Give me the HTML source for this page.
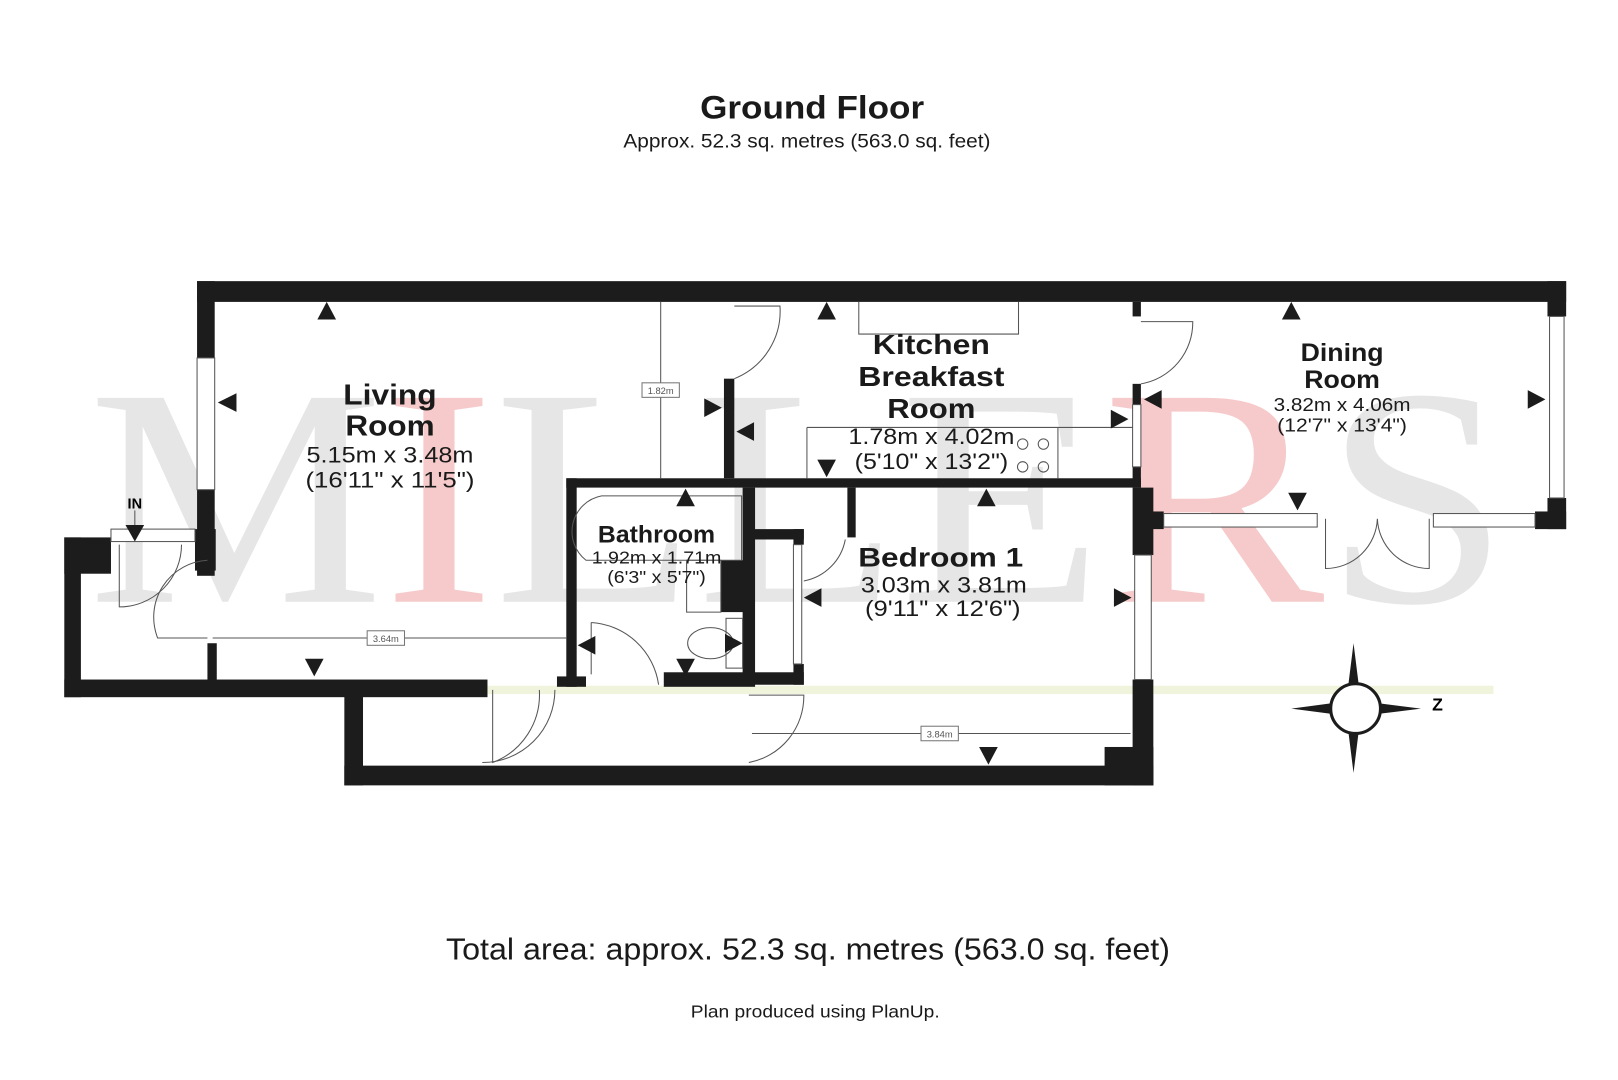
<!DOCTYPE html>
<html><head><style>
html,body{margin:0;padding:0;background:#fff;}
svg{display:block;}
text{font-family:"Liberation Sans",sans-serif;}
</style></head><body>
<svg width="1618" height="1080" viewBox="0 0 1560 1041" preserveAspectRatio="none" xmlns="http://www.w3.org/2000/svg">
<rect width="1560" height="1041" fill="#fff"/>
<text x="85" y="580" font-size="300" textLength="1370" lengthAdjust="spacingAndGlyphs" fill="#e6e6e6" style="font-family:'Liberation Serif',serif">M<tspan fill="#f6caca">I</tspan>LLE<tspan fill="#f6caca">R</tspan>S</text>
<rect x="75" y="661" width="1365" height="8" fill="#eef3d8" opacity="0.9"/>
<g fill="#1c1c1c">
<rect x="190" y="271" width="1320" height="20"/>
<rect x="190" y="271" width="17" height="74"/>
<rect x="190" y="472" width="17" height="83"/>
<rect x="1492" y="271" width="18" height="34"/>
<rect x="1492" y="480" width="18" height="30"/>
<rect x="1100" y="493" width="22" height="17"/>
<rect x="1480" y="493" width="30" height="17"/>
<rect x="546" y="461" width="554" height="9"/>
<rect x="698" y="365" width="10" height="96"/>
<rect x="1092" y="291" width="8" height="14"/>
<rect x="1092" y="370" width="8" height="20"/>
<rect x="1092" y="450" width="8" height="20"/>
<rect x="1092" y="470" width="20" height="65"/>
<rect x="1092" y="655" width="20" height="102"/>
<rect x="332" y="738" width="780" height="19"/>
<rect x="1065" y="720" width="47" height="37"/>
<rect x="332" y="665" width="18" height="92"/>
<rect x="62" y="655" width="408" height="17"/>
<rect x="200" y="620" width="9" height="40"/>
<rect x="62" y="518" width="16" height="154"/>
<rect x="62" y="518" width="45" height="35"/>
<rect x="188" y="510" width="20" height="40"/>
<rect x="546" y="461" width="10" height="201"/>
<rect x="537" y="652" width="28" height="10"/>
<rect x="640" y="648" width="88" height="14"/>
<rect x="716" y="470" width="12" height="190"/>
<rect x="695" y="540" width="25" height="50"/>
<rect x="722" y="510" width="53" height="10"/>
<rect x="765" y="510" width="10" height="15"/>
<rect x="817" y="470" width="8" height="48"/>
<rect x="722" y="648" width="53" height="12"/>
<rect x="765" y="640" width="10" height="20"/>
</g>
<g fill="#fff" stroke="#555" stroke-width="1">
<rect x="190" y="345" width="17" height="127"/>
<rect x="1494" y="305" width="14" height="175"/>
<rect x="1122" y="495" width="148" height="13"/>
<rect x="1382" y="495" width="98" height="13"/>
<rect x="1094" y="535" width="16" height="120"/>
<rect x="1092" y="390" width="8" height="60"/>
<rect x="107" y="510" width="81" height="12"/>
<rect x="765" y="525" width="8" height="115"/>
</g>
<g fill="none" stroke="#555" stroke-width="1">
<path d="M708 365 A70 70 0 0 0 752 295 L708 295"/>
<path d="M1100 370 A60 60 0 0 0 1150 310 L1100 310"/>
<path d="M200 540 A55 55 0 0 0 152 615 L200 615"/>
<path d="M115 525 V585 A60 60 0 0 0 175 525"/>
<path d="M475 665 V735 A70 70 0 0 0 520 665"/>
<path d="M465 735 A70 70 0 0 0 535 665"/>
<path d="M722 735 A65 65 0 0 0 775 670 L722 670"/>
<path d="M570 600 A70 70 0 0 1 635 660 M570 600 V650"/>
<path d="M775 560 A50 50 0 0 0 815 520"/>
<path d="M1278 500 V548 A50 50 0 0 0 1328 500 A50 50 0 0 0 1378 548 V500"/>
<path d="M828 291 V322 H982 V291"/>
<path d="M778 412 H1092 M778 412 V461 M1020 412 V461"/>
<path d="M580 478 H715 V540 H565 A35 35 0 0 1 580 478"/>
<path d="M662 540 H695 V590 H662 Z"/>
<ellipse cx="685" cy="620" rx="22" ry="15"/>
<rect x="700" y="596" width="16" height="48"/>
<circle cx="986" cy="428" r="5"/><circle cx="1006" cy="428" r="5"/>
<circle cx="986" cy="450" r="5"/><circle cx="1006" cy="450" r="5"/>
<line x1="637" y1="291" x2="637" y2="461"/>
<line x1="205" y1="615" x2="546" y2="615"/>
<line x1="725" y1="707" x2="1090" y2="707"/>
<line x1="130" y1="492" x2="130" y2="506"/>
</g>
<g fill="#fff" stroke="#777" stroke-width="1">
<rect x="619" y="369" width="36" height="14"/><rect x="354" y="608" width="36" height="14"/><rect x="888" y="700" width="36" height="14"/>
</g>
<g font-size="9" fill="#555" text-anchor="middle">
<text x="637" y="380">1.82m</text><text x="372" y="619">3.64m</text><text x="906" y="711">3.84m</text>
</g>
<g fill="#1c1c1c">
<path d="M306 308 L324 308 L315 291Z"/>
<path d="M788 308 L806 308 L797 291Z"/>
<path d="M1236 308 L1254 308 L1245 291Z"/>
<path d="M210 388 L228 379 L228 397Z"/>
<path d="M696 393 L679 384 L679 402Z"/>
<path d="M710 416 L727 407 L727 425Z"/>
<path d="M1088 404 L1071 395 L1071 413Z"/>
<path d="M1103 385 L1120 376 L1120 394Z"/>
<path d="M1490 385 L1473 376 L1473 394Z"/>
<path d="M788 443 L806 443 L797 460Z"/>
<path d="M1242 475 L1260 475 L1251 492Z"/>
<path d="M652 488 L670 488 L661 471Z"/>
<path d="M942 488 L960 488 L951 471Z"/>
<path d="M775 576 L792 567 L792 585Z"/>
<path d="M1091 576 L1074 567 L1074 585Z"/>
<path d="M557 622 L574 613 L574 631Z"/>
<path d="M716 620 L699 611 L699 629Z"/>
<path d="M652 635 L670 635 L661 652Z"/>
<path d="M294 635 L312 635 L303 652Z"/>
<path d="M944 720 L962 720 L953 737Z"/>
<path d="M121 506 L139 506 L130 522Z"/>
</g>
<text x="130" y="490" font-size="14" font-weight="bold" text-anchor="middle">IN</text>
<g fill="#1c1c1c">
<path d="M1305 620 L1310 660 L1300 660Z"/>
<path d="M1305 745 L1310 705 L1300 705Z"/>
<path d="M1245 683 L1283 678 L1283 688Z"/>
<path d="M1370 683 L1330 678 L1330 688Z"/>
</g>
<circle cx="1307" cy="683" r="24" fill="#fff" stroke="#1c1c1c" stroke-width="3"/>
<text x="1386" y="685" font-size="17" font-weight="bold" text-anchor="middle">Z</text>
<g text-anchor="middle" fill="#1a1a1a" lengthAdjust="spacingAndGlyphs">
<text x="783" y="114" font-size="31" font-weight="bold" textLength="216" lengthAdjust="spacingAndGlyphs">Ground Floor</text>
<text x="778" y="142" font-size="19" textLength="354" lengthAdjust="spacingAndGlyphs">Approx. 52.3 sq. metres (563.0 sq. feet)</text>
<text x="376" y="390" font-size="28" font-weight="bold" textLength="90" lengthAdjust="spacingAndGlyphs">Living</text>
<text x="376" y="420" font-size="28" font-weight="bold" textLength="86" lengthAdjust="spacingAndGlyphs">Room</text>
<text x="376" y="446" font-size="21" textLength="161" lengthAdjust="spacingAndGlyphs">5.15m x 3.48m</text>
<text x="376" y="470" font-size="21" textLength="163" lengthAdjust="spacingAndGlyphs">(16'11" x 11'5")</text>
<text x="898" y="341" font-size="27" font-weight="bold" textLength="113" lengthAdjust="spacingAndGlyphs">Kitchen</text>
<text x="898" y="372" font-size="27" font-weight="bold" textLength="141" lengthAdjust="spacingAndGlyphs">Breakfast</text>
<text x="898" y="403" font-size="27" font-weight="bold" textLength="85" lengthAdjust="spacingAndGlyphs">Room</text>
<text x="898" y="428" font-size="21" textLength="160" lengthAdjust="spacingAndGlyphs">1.78m x 4.02m</text>
<text x="898" y="452" font-size="21" textLength="148" lengthAdjust="spacingAndGlyphs">(5'10" x 13'2")</text>
<text x="1294" y="348" font-size="24" font-weight="bold" textLength="80" lengthAdjust="spacingAndGlyphs">Dining</text>
<text x="1294" y="374" font-size="24" font-weight="bold" textLength="73" lengthAdjust="spacingAndGlyphs">Room</text>
<text x="1294" y="396" font-size="18" textLength="132" lengthAdjust="spacingAndGlyphs">3.82m x 4.06m</text>
<text x="1294" y="416" font-size="18" textLength="125" lengthAdjust="spacingAndGlyphs">(12'7" x 13'4")</text>
<text x="633" y="523" font-size="23" font-weight="bold" textLength="113" lengthAdjust="spacingAndGlyphs">Bathroom</text>
<text x="633" y="543" font-size="17" textLength="125" lengthAdjust="spacingAndGlyphs">1.92m x 1.71m</text>
<text x="633" y="562" font-size="17" textLength="95" lengthAdjust="spacingAndGlyphs">(6'3" x 5'7")</text>
<text x="907" y="546" font-size="26" font-weight="bold" textLength="159" lengthAdjust="spacingAndGlyphs">Bedroom 1</text>
<text x="910" y="571" font-size="21" textLength="160" lengthAdjust="spacingAndGlyphs">3.03m x 3.81m</text>
<text x="909" y="594" font-size="21" textLength="150" lengthAdjust="spacingAndGlyphs">(9'11" x 12'6")</text>
<text x="779" y="925" font-size="29" textLength="698" lengthAdjust="spacingAndGlyphs">Total area: approx. 52.3 sq. metres (563.0 sq. feet)</text>
<text x="786" y="981" font-size="17" textLength="240" lengthAdjust="spacingAndGlyphs">Plan produced using PlanUp.</text>
</g>
</svg>
</body></html>
